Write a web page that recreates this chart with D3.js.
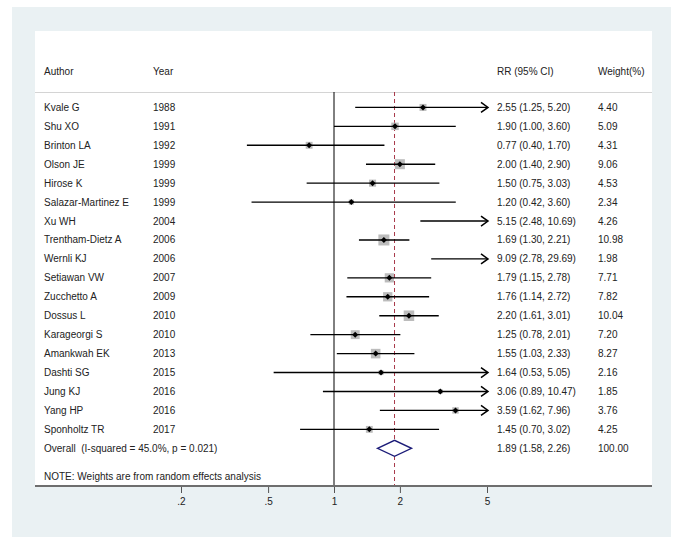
<!DOCTYPE html>
<html>
<head>
<meta charset="utf-8">
<script src="https://cdn.jsdelivr.net/npm/d3@7"></script>
<style>
  body { margin: 0; background: #fff; }
  text { font-family: "Liberation Sans", Arial, sans-serif; font-size: 10px; fill: #222; }
</style>
</head>
<body>
<div id="chart"></div>
<script>
var authors = ["Kvale G", "Shu XO", "Brinton LA", "Olson JE", "Hirose K", "Salazar-Martinez E",
  "Xu WH", "Trentham-Dietz A", "Wernli KJ", "Setiawan VW", "Zucchetto A", "Dossus L",
  "Karageorgi S", "Amankwah EK", "Dashti SG", "Jung KJ", "Yang HP", "Sponholtz TR"]
var years = [1988, 1991, 1992, 1999, 1999, 1999, 2004, 2006, 2006, 2007, 2009, 2010, 2010, 2013, 2015, 2016, 2016, 2017]
var rr = [2.55, 1.90, 0.77, 2.00, 1.50, 1.20, 5.15, 1.69, 9.09, 1.79, 1.76, 2.20, 1.25, 1.55, 1.64, 3.06, 3.59, 1.45]
var lower = [1.25, 1.00, 0.40, 1.40, 0.75, 0.42, 2.48, 1.30, 2.78, 1.15, 1.14, 1.61, 0.78, 1.03, 0.53, 0.89, 1.62, 0.70]
var upper = [5.20, 3.60, 1.70, 2.90, 3.03, 3.60, 10.69, 2.21, 29.69, 2.78, 2.72, 3.01, 2.01, 2.33, 5.05, 10.47, 7.96, 3.02]
var weights = ["4.40", "5.09", "4.31", "9.06", "4.53", "2.34", "4.26", "10.98", "1.98", "7.71", "7.82", "10.04", "7.20", "8.27", "2.16", "1.85", "3.76", "4.25"]

var overall = {rr: 1.89, lower: 1.58, upper: 2.26, weight: "100.00"}
var overallLabel = "Overall  (I-squared = 45.0%, p = 0.021)"
var noteText = "NOTE: Weights are from random effects analysis"
var tickVals = [0.2, 0.5, 1, 2, 5]
var tickLabels = [".2", ".5", "1", "2", "5"]

var W = 682, H = 554
var panel = {left: 35, right: 652, top: 31, bottom: 486}

var svg = d3.select("#chart").append("svg")
    .attr("width", W)
    .attr("height", H)

// outer light background and white plot region
svg.append("rect").attr("x", 12).attr("y", 7).attr("width", 659).attr("height", 530).attr("fill", "#eaf1f3")
svg.append("rect").attr("x", panel.left).attr("y", panel.top)
    .attr("width", panel.right - panel.left).attr("height", panel.bottom - panel.top).attr("fill", "#fff")

var x = d3.scaleLog().domain([0.2, 5]).range([181, 487])
var y = d3.scaleLinear().domain([0, 18]).range([107.4, 448.3])
var xMax = x.domain()[1]

var colAuthor = 44, colYear = 153, colRR = 497, colW = 598

// header
var headY = 71
svg.append("text").attr("x", colAuthor).attr("y", headY).attr("dy", "0.35em").text("Author")
svg.append("text").attr("x", colYear).attr("y", headY).attr("dy", "0.35em").text("Year")
svg.append("text").attr("x", colRR).attr("y", headY).attr("dy", "0.35em").text("RR (95% CI)")
svg.append("text").attr("x", colW).attr("y", headY).attr("dy", "0.35em").text("Weight(%)")
svg.append("line").attr("x1", panel.left).attr("x2", panel.right).attr("y1", 92.5).attr("y2", 92.5)
    .attr("stroke", "#d4d4d4").attr("stroke-width", 1)

// reference lines
svg.append("line").attr("x1", x(1)).attr("x2", x(1)).attr("y1", 92).attr("y2", panel.bottom)
    .attr("stroke", "#000").attr("stroke-width", 1)
svg.append("line").attr("x1", x(overall.rr)).attr("x2", x(overall.rr)).attr("y1", 92).attr("y2", panel.bottom)
    .attr("stroke", "#a8384a").attr("stroke-width", 1).attr("stroke-dasharray", "4,3")

var idx = d3.range(authors.length)

// weight squares
svg.selectAll(".box").data(idx.filter(function(i) { return rr[i] <= xMax })).enter()
    .append("rect")
    .attr("class", "box")
    .attr("x", function(i) { return x(rr[i]) - 1.66 * Math.sqrt(+weights[i]) })
    .attr("y", function(i) { return y(i) - 1.66 * Math.sqrt(+weights[i]) })
    .attr("width", function(i) { return 3.32 * Math.sqrt(+weights[i]) })
    .attr("height", function(i) { return 3.32 * Math.sqrt(+weights[i]) })
    .attr("fill", "#bcbcbc")

// CI lines
svg.selectAll(".ci").data(idx).enter()
    .append("line")
    .attr("class", "ci")
    .attr("x1", function(i) { return x(lower[i]) })
    .attr("x2", function(i) { return x(Math.min(upper[i], xMax)) })
    .attr("y1", function(i) { return y(i) })
    .attr("y2", function(i) { return y(i) })
    .attr("stroke", "#000").attr("stroke-width", 1.4)

// arrow heads for clipped intervals
svg.selectAll(".arrow").data(idx.filter(function(i) { return upper[i] > xMax })).enter()
    .append("path")
    .attr("class", "arrow")
    .attr("d", function(i) {
        var tx = x(xMax) + 1, ty = y(i)
        return "M" + (tx - 7) + "," + (ty - 5) + "L" + tx + "," + ty + "L" + (tx - 7) + "," + (ty + 5)
    })
    .attr("fill", "none").attr("stroke", "#000").attr("stroke-width", 1.5)

// point estimates
svg.selectAll(".pt").data(idx.filter(function(i) { return rr[i] <= xMax })).enter()
    .append("path")
    .attr("class", "pt")
    .attr("transform", function(i) { return "translate(" + x(rr[i]) + "," + y(i) + ")" })
    .attr("d", "M0,-3L3,0L0,3L-3,0Z")
    .attr("fill", "#000")

// overall diamond
var oy = y(18)
svg.append("path")
    .attr("d", "M" + x(overall.lower) + "," + oy + "L" + x(overall.rr) + "," + (oy - 8) +
        "L" + x(overall.upper) + "," + oy + "L" + x(overall.rr) + "," + (oy + 8) + "Z")
    .attr("fill", "#fff").attr("stroke", "#1c1c78").attr("stroke-width", 1.4)

// text columns
var rows = svg.selectAll(".row").data(idx).enter().append("g").attr("class", "row")
rows.append("text").attr("x", colAuthor).attr("y", function(i) { return y(i) }).attr("dy", "0.35em")
    .text(function(i) { return authors[i] })
rows.append("text").attr("x", colYear).attr("y", function(i) { return y(i) }).attr("dy", "0.35em")
    .text(function(i) { return years[i] })
rows.append("text").attr("x", colRR).attr("y", function(i) { return y(i) }).attr("dy", "0.35em")
    .text(function(i) { return rr[i].toFixed(2) + " (" + lower[i].toFixed(2) + ", " + upper[i].toFixed(2) + ")" })
rows.append("text").attr("x", colW).attr("y", function(i) { return y(i) }).attr("dy", "0.35em")
    .text(function(i) { return weights[i] })

svg.append("text").attr("x", colAuthor).attr("y", oy).attr("dy", "0.35em")
    .style("white-space", "pre").text(overallLabel)
svg.append("text").attr("x", colRR).attr("y", oy).attr("dy", "0.35em")
    .text(overall.rr.toFixed(2) + " (" + overall.lower.toFixed(2) + ", " + overall.upper.toFixed(2) + ")")
svg.append("text").attr("x", colW).attr("y", oy).attr("dy", "0.35em").text(overall.weight)
svg.append("text").attr("x", colAuthor).attr("y", 476.5).attr("dy", "0.35em").text(noteText)

// x axis
svg.append("line").attr("x1", panel.left).attr("x2", panel.right).attr("y1", panel.bottom).attr("y2", panel.bottom)
    .attr("stroke", "#6e6e6e").attr("stroke-width", 2)
var axis = svg.append("g")
    .attr("transform", "translate(0," + (panel.bottom + 1) + ")")
    .call(d3.axisBottom(x).tickValues(tickVals)
        .tickFormat(function(d, i) { return tickLabels[i] })
        .tickSize(6).tickPadding(5))
axis.select(".domain").remove()
axis.selectAll(".tick line").attr("stroke", "#555")
axis.selectAll(".tick text").style("font-size", "10px").style("fill", "#222")
</script>
</body>
</html>
